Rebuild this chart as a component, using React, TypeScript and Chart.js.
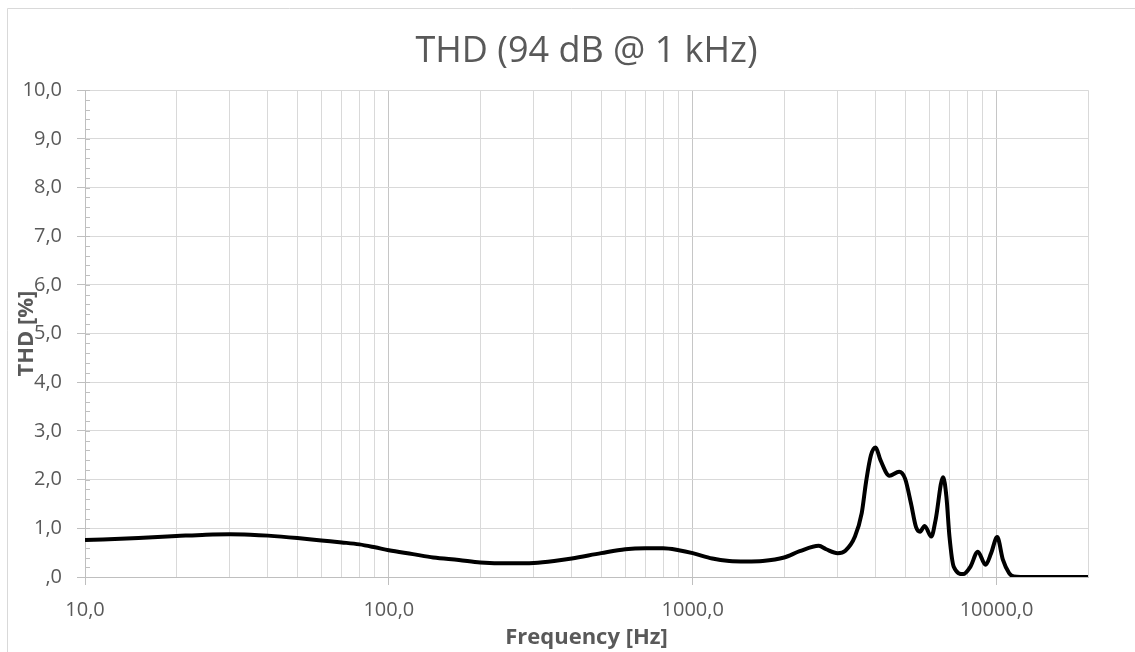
import React, { useEffect, useRef } from 'react';
import { Chart, registerables } from 'chart.js';

Chart.register(...registerables);

// ---- data ----
const freqHz = [
  10, 15, 20, 25, 30, 35, 40, 50, 60, 70, 80, 90, 100, 120, 140, 170, 200, 250, 300, 350,
  400, 500, 600, 700, 800, 900, 1000, 1160, 1320, 1500, 1700, 2000, 2250, 2600, 2750, 3000,
  3180, 3420, 3600, 3720, 3860, 4000, 4150, 4440, 4780, 5000, 5230, 5430, 5600, 5800, 6100,
  6300, 6670, 6840, 7000, 7230, 7770, 8200, 8680, 9200, 9600, 10050, 10500, 11000, 11400,
  12000, 20000,
];
const thdPct = [
  0.76, 0.80, 0.84, 0.87, 0.88, 0.87, 0.85, 0.80, 0.75, 0.71, 0.67, 0.61, 0.55, 0.47, 0.40, 0.35, 0.30, 0.28, 0.29, 0.33,
  0.38, 0.49, 0.57, 0.59, 0.59, 0.55, 0.49, 0.38, 0.33, 0.32, 0.33, 0.40, 0.53, 0.64, 0.57, 0.49,
  0.54, 0.83, 1.31, 1.95, 2.50, 2.66, 2.40, 2.08, 2.16, 2.02, 1.51, 1.03, 0.93, 1.05, 0.83,
  1.17, 2.05, 1.65, 0.83, 0.21, 0.06, 0.21, 0.52, 0.25, 0.49, 0.82, 0.35, 0.08, 0.01,
  0, 0,
];
const decades = [10, 100, 1000, 10000];
const multipliers = [1, 2, 3, 4, 5, 6, 7, 8, 9];
const xMin = 10;
const xMax = 20000;
const yMin = 0;
const yMax = 10;
const chartTitle = 'THD (94 dB @ 1 kHz)';
const xTitle = 'Frequency [Hz]';
const yTitle = 'THD [%]';

const FONT = "'Open Sans', 'DejaVu Sans', sans-serif";
const TEXT = '#595959';

const fmt = (v: number) => (v === 0 ? ',0' : v.toFixed(1).replace('.', ','));
const isMajor = (v: number) => decades.some((d) => Math.abs(v - d) < 1e-6);

const decor = {
  id: 'decor',
  beforeDraw(chart: any) {
    const ctx = chart.ctx;
    ctx.save();
    ctx.fillStyle = '#ffffff';
    ctx.fillRect(0, 0, chart.width, chart.height);
    ctx.strokeStyle = '#d9d9d9';
    ctx.lineWidth = 1;
    ctx.beginPath();
    ctx.moveTo(7.5, chart.height + 5);
    ctx.lineTo(7.5, 8.5);
    ctx.lineTo(chart.width + 5, 8.5);
    ctx.stroke();
    ctx.restore();
  },
  beforeDatasetsDraw(chart: any) {
    const ctx = chart.ctx;
    const ys = chart.scales.y;
    const x0 = chart.chartArea.left;
    ctx.save();
    ctx.strokeStyle = '#bfbfbf';
    ctx.lineWidth = 1;
    ctx.beginPath();
    for (let i = 0; i <= 50; i++) {
      const v = yMin + i * 0.2;
      const py = Math.round(ys.getPixelForValue(v)) + 0.5;
      ctx.moveTo(x0, py);
      ctx.lineTo(x0 + 5, py);
    }
    ctx.stroke();
    ctx.restore();
  },
  afterDraw(chart: any) {
    const ctx = chart.ctx;
    const { top, bottom } = chart.chartArea;
    ctx.save();
    ctx.translate(27, (top + bottom) / 2);
    ctx.rotate(-Math.PI / 2);
    ctx.font = `bold 22px ${FONT}`;
    ctx.fillStyle = TEXT;
    ctx.textAlign = 'center';
    ctx.textBaseline = 'middle';
    ctx.fillText(yTitle, 0, 0);
    ctx.restore();
  },
};

export default function App() {
  const ref = useRef<HTMLCanvasElement>(null);

  useEffect(() => {
    if (!ref.current) return;
    const points = freqHz.map((f, i) => ({ x: f, y: thdPct[i] }));
    const xTickValues: number[] = [];
    decades.forEach((d) => multipliers.forEach((m) => {
      const v = d * m;
      if (v >= xMin && v <= xMax) xTickValues.push(v);
    }));

    const chart = new Chart(ref.current, {
      type: 'line',
      data: {
        datasets: [
          {
            data: points,
            borderColor: '#000000',
            borderWidth: 4,
            pointRadius: 0,
            fill: false,
            cubicInterpolationMode: 'monotone',
          },
        ],
      },
      options: {
        animation: false,
        responsive: false,
        events: [],
        layout: { padding: { left: 0, top: 0, right: 47, bottom: 0 } },
        plugins: {
          legend: { display: false },
          tooltip: { enabled: false },
          title: {
            display: true,
            text: chartTitle,
            fullSize: false,
            color: TEXT,
            font: { family: FONT, size: 36, weight: 'normal' },
            padding: { top: 30, bottom: 17 },
          },
        },
        scales: {
          x: {
            type: 'logarithmic',
            min: xMin,
            max: xMax,
            afterBuildTicks: (scale: any) => {
              scale.ticks = xTickValues.map((v) => ({ value: v }));
            },
            afterFit: (scale: any) => {
              scale.height = 75;
            },
            ticks: {
              autoSkip: false,
              maxRotation: 0,
              minRotation: 0,
              padding: 13,
              color: TEXT,
              font: { family: FONT, size: 20 },
              callback: (v: any) => (isMajor(Number(v)) ? fmt(Number(v)) : ''),
            },
            grid: {
              color: (c: any) => (isMajor(c.tick?.value) ? '#c6c6c6' : '#d9d9d9'),
              tickColor: (c: any) => (isMajor(c.tick?.value) ? '#bfbfbf' : 'rgba(0,0,0,0)'),
              tickLength: 8,
              lineWidth: 1,
            },
            border: { display: true, color: '#bfbfbf' },
            title: {
              display: true,
              text: xTitle,
              color: TEXT,
              font: { family: FONT, size: 22, weight: 'bold' },
              padding: { top: 0, bottom: 1 },
            },
          },
          y: {
            type: 'linear',
            min: yMin,
            max: yMax,
            afterFit: (scale: any) => {
              scale.width = 85;
            },
            ticks: {
              stepSize: 1,
              padding: 15,
              color: TEXT,
              font: { family: FONT, size: 20 },
              callback: (v: any) => fmt(Number(v)),
            },
            grid: {
              color: '#d9d9d9',
              tickColor: '#bfbfbf',
              tickLength: 8,
              lineWidth: 1,
            },
            border: { display: true, color: '#bfbfbf' },
          },
        },
      },
      plugins: [decor],
    });
    return () => chart.destroy();
  }, []);

  return (
    <div style={{ position: 'fixed', left: 0, top: 0, width: 1135, height: 652, background: '#fff' }}>
      <canvas ref={ref} width={1135} height={652} style={{ display: 'block', width: 1135, height: 652 }} />
    </div>
  );
}
